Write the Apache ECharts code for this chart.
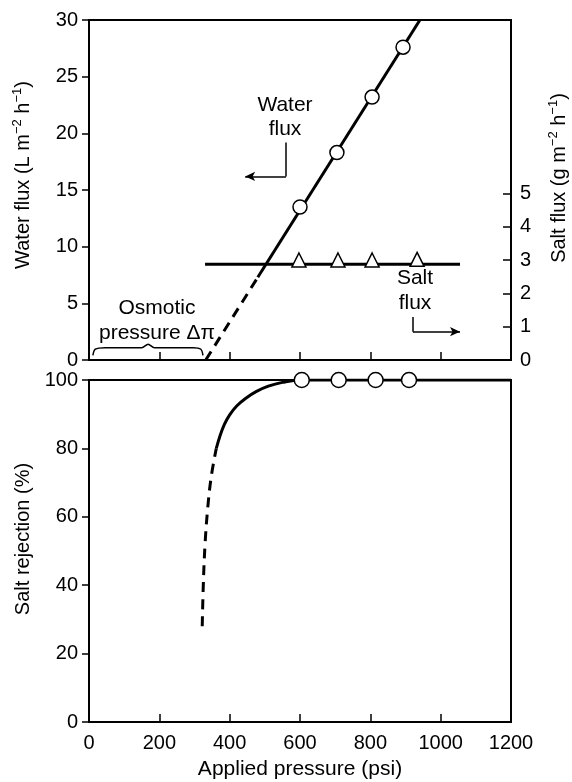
<!DOCTYPE html>
<html>
<head>
<meta charset="utf-8">
<script src="https://cdn.jsdelivr.net/npm/echarts@6/dist/echarts.min.js"></script>
<style>
html,body{margin:0;padding:0;background:#fff;}
#chart{width:572px;height:782px;}
</style>
</head>
<body>
<div id="chart"></div>
<script>
// pressure axis
const pressureTicks = [0, 200, 400, 600, 800, 1000, 1200];
// water flux (L m-2 h-1)
const waterX = [600, 705, 805, 893];
const waterY = [13.5, 18.3, 23.2, 27.6];
const waterDashed = [[332, 0], [480, 7.3]];
const waterSolid = [[480, 7.3], [941, 30]];
// salt flux (g m-2 h-1)
const saltX = [597, 708, 805, 933];
const saltY = [3.0, 3.0, 3.0, 3.02];
const saltLine = [[330, 2.87], [1055, 2.87]];
const saltTicks = [0, 1, 2, 3, 4, 5];
// salt rejection (%)
const rejX = [605, 710, 815, 910];
const rejY = [100, 100, 100, 100];
const rejDashed = [[322, 28], [325, 40], [330, 52], [338, 63], [348, 72], [362, 80]];
const rejSolid = [[362, 80], [372, 83.5], [385, 87], [400, 89.8], [420, 92.4], [445, 94.6], [475, 96.6], [510, 98.2], [550, 99.3], [600, 100], [1200, 100]];
// osmotic pressure brace
const brace = [[11, 0.4], [18, 0.95], [46, 1.08], [150, 1.08], [168, 1.4], [186, 1.08], [296, 1.08], [318, 0.95], [324, 0.4]];

const font = "'Liberation Sans', Arial, sans-serif";
const black = '#000';

const chart = echarts.init(document.getElementById('chart'));

function zip(xs, ys) { return xs.map((x, i) => [x, ys[i]]); }

const lineStyle = { color: black, width: 3 };
const openSym = { color: '#fff', borderColor: black, borderWidth: 1.5 };
const tickFont = { fontSize: 20, color: black, fontFamily: font };
const supRich = { sup: { fontSize: 13, fontFamily: font, color: black, padding: [0, 0, 11, 0] } };

function note(text, x, y) {
    return { type: 'text', x: x, y: y, style: { text: text, font: '21px ' + font, fill: black, textAlign: 'center', textVerticalAlign: 'middle' } };
}

const option = {
    animation: false,
    textStyle: { fontFamily: font, color: black },
    grid: [
        { left: 89, right: 61, top: 20, height: 340, show: true, borderColor: black, borderWidth: 2, outerBoundsMode: 'none', containLabel: false },
        { left: 89, right: 61, top: 380, height: 342, show: true, borderColor: black, borderWidth: 2, outerBoundsMode: 'none', containLabel: false }
    ],
    xAxis: [
        {
            gridIndex: 0, type: 'value', min: 0, max: 1200, interval: 200,
            axisLine: { lineStyle: { color: black, width: 2 } },
            axisTick: { inside: true, length: 8, lineStyle: { color: black, width: 1.5 } },
            axisLabel: { show: false },
            splitLine: { show: false }
        },
        {
            gridIndex: 1, type: 'value', min: 0, max: 1200, interval: 200,
            axisLine: { lineStyle: { color: black, width: 2 } },
            axisTick: { inside: true, length: 8, lineStyle: { color: black, width: 1.5 } },
            axisLabel: Object.assign({ margin: 11, formatter: v => String(v) }, tickFont),
            splitLine: { show: false },
            name: 'Applied pressure (psi)', nameLocation: 'middle', nameGap: 37,
            nameTextStyle: { fontSize: 21, color: black, fontFamily: font }
        }
    ],
    yAxis: [
        {
            gridIndex: 0, type: 'value', min: 0, max: 30, interval: 5,
            axisLine: { show: true, lineStyle: { color: black, width: 2 } },
            axisTick: { show: true, length: 7, lineStyle: { color: black, width: 1.5 } },
            axisLabel: Object.assign({ margin: 11 }, tickFont),
            splitLine: { show: false },
            name: 'Water flux (L m{sup|−2} h{sup|−1})', nameLocation: 'middle', nameGap: 54,
            nameTextStyle: { fontSize: 20, color: black, fontFamily: font, padding: [0, 0, 0, 30], rich: supRich }
        },
        {
            gridIndex: 0, type: 'value', min: 0, max: 10.2, position: 'right',
            axisLine: { show: true, lineStyle: { color: black, width: 2 } },
            axisTick: { show: true, inside: true, length: 8, customValues: saltTicks, lineStyle: { color: black, width: 1.5 } },
            axisLabel: Object.assign({ margin: 9, customValues: saltTicks }, tickFont),
            splitLine: { show: false },
            name: 'Salt flux (g m{sup|−2} h{sup|−1})', nameLocation: 'middle', nameGap: 36,
            nameTextStyle: { fontSize: 20, color: black, fontFamily: font, padding: [0, 0, 0, 24], rich: supRich }
        },
        {
            gridIndex: 1, type: 'value', min: 0, max: 100, interval: 20,
            axisLine: { show: true, lineStyle: { color: black, width: 2 } },
            axisTick: { show: true, length: 7, lineStyle: { color: black, width: 1.5 } },
            axisLabel: Object.assign({ margin: 11 }, tickFont),
            splitLine: { show: false },
            name: 'Salt rejection (%)', nameLocation: 'middle', nameGap: 54,
            nameTextStyle: { fontSize: 20, color: black, fontFamily: font, padding: [0, 0, 0, 24] }
        }
    ],
    series: [
        { type: 'line', xAxisIndex: 0, yAxisIndex: 0, data: waterDashed, showSymbol: false,
          lineStyle: { color: black, width: 3, type: [10, 7] } },
        { type: 'line', xAxisIndex: 0, yAxisIndex: 0, data: waterSolid, showSymbol: false, lineStyle: lineStyle },
        { type: 'line', xAxisIndex: 0, yAxisIndex: 0, data: zip(waterX, waterY),
          lineStyle: { width: 0 }, symbol: 'circle', symbolSize: 14, itemStyle: openSym, z: 5 },
        { type: 'line', xAxisIndex: 0, yAxisIndex: 1, data: saltLine, showSymbol: false, lineStyle: lineStyle },
        { type: 'line', xAxisIndex: 0, yAxisIndex: 1, data: zip(saltX, saltY),
          lineStyle: { width: 0 }, symbol: 'triangle', symbolSize: 14, itemStyle: openSym, z: 5 },
        { type: 'line', xAxisIndex: 0, yAxisIndex: 0, data: brace, showSymbol: false, smooth: 0.3,
          lineStyle: { color: black, width: 1.5 } },
        { type: 'line', xAxisIndex: 0, yAxisIndex: 0, data: [], showSymbol: false,
          markLine: {
              silent: true, symbol: ['none', 'none'], label: { show: false },
              lineStyle: { color: black, width: 1.5, type: 'solid' },
              data: [
                  [{ coord: [560, 19.2] }, { coord: [560, 16.2] }],
                  [{ coord: [560, 16.2], symbol: 'none' }, { coord: [444, 16.2], symbol: 'arrow', symbolSize: [7, 10] }],
                  [{ coord: [921, 3.8] }, { coord: [921, 2.5] }],
                  [{ coord: [921, 2.5], symbol: 'none' }, { coord: [1055, 2.5], symbol: 'arrow', symbolSize: [7, 10] }]
              ]
          } },
        { type: 'line', xAxisIndex: 1, yAxisIndex: 2, data: rejDashed, showSymbol: false, smooth: 0.4,
          lineStyle: { color: black, width: 3, type: [10, 7] } },
        { type: 'line', xAxisIndex: 1, yAxisIndex: 2, data: rejSolid, showSymbol: false, smooth: 0.4, lineStyle: lineStyle },
        { type: 'line', xAxisIndex: 1, yAxisIndex: 2, data: zip(rejX, rejY),
          lineStyle: { width: 0 }, symbol: 'circle', symbolSize: 15, itemStyle: openSym, z: 5 }
    ],
    graphic: [
        note('Water', 285, 105),
        note('flux', 285, 129),
        note('Salt', 415, 278),
        note('flux', 415, 303),
        note('Osmotic', 157, 308),
        note('pressure Δπ', 157, 333)
    ]
};

chart.setOption(option);
</script>
</body>
</html>
